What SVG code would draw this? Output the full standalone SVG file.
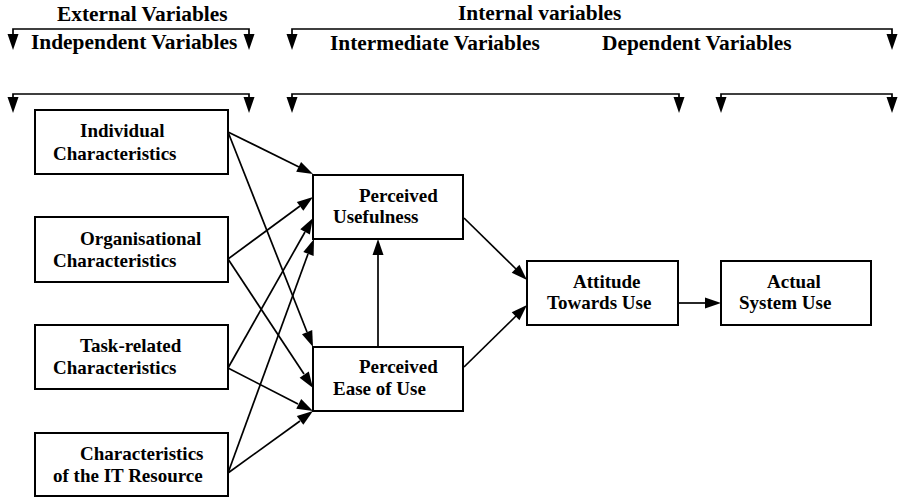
<svg xmlns="http://www.w3.org/2000/svg" width="899" height="498" viewBox="0 0 899 498">
  <style>
    .hdr { font-size: 21.4px; font-family: "Liberation Serif", serif; font-weight: bold; }
    .lbl { font-size: 19px; font-family: "Liberation Serif", serif; font-weight: bold; }
    .box { fill: #fff; stroke: #000; stroke-width: 2; }
    .ln { fill: none; stroke: #000; stroke-width: 1.7; }
  </style>
  <defs>
    <path id="head" d="M-5.5,-16 L5.5,-16 L0,0 z" fill="#000"/>
  </defs>
  <rect width="899" height="498" fill="#fff"/>

  <g id="headings">
    <text class="hdr" x="57" y="21">External Variables</text>
    <text class="hdr" x="31" y="49">Independent Variables</text>
    <text class="hdr" x="458" y="20">Internal variables</text>
    <text class="hdr" x="330" y="50">Intermediate Variables</text>
    <text class="hdr" x="602" y="50">Dependent Variables</text>
  </g>

  <g id="brackets">
    <path class="ln" d="M13,36 V29 H249 V36"/>
    <path class="ln" d="M292,36 V29 H892 V36"/>
    <path class="ln" d="M13,99 V94 H249 V99"/>
    <path class="ln" d="M292,99 V94 H679 V99"/>
    <path class="ln" d="M721,99 V94 H892 V99"/>
    <use href="#head" x="13" y="50"/>
    <use href="#head" x="249" y="50"/>
    <use href="#head" x="292" y="50"/>
    <use href="#head" x="892" y="50"/>
    <use href="#head" x="13" y="113"/>
    <use href="#head" x="249" y="113"/>
    <use href="#head" x="292" y="113"/>
    <use href="#head" x="679" y="113"/>
    <use href="#head" x="721" y="113"/>
    <use href="#head" x="892" y="113"/>
  </g>

  <g id="connectors">
    <path class="ln" d="M228,132 L299,167"/>
    <path class="ln" d="M228,132 L307,332"/>
    <path class="ln" d="M228,259 L300,206"/>
    <path class="ln" d="M228,259 L304,374"/>
    <path class="ln" d="M228,368 L305,232"/>
    <path class="ln" d="M228,368 L298,404"/>
    <path class="ln" d="M228,473 L308,254"/>
    <path class="ln" d="M228,473 L300,421"/>
    <path class="ln" d="M378,347 L378,254"/>
    <path class="ln" d="M464,218 L516,269"/>
    <path class="ln" d="M464,367 L516,316"/>
    <path class="ln" d="M678,303 L706,303"/>
    <use href="#head" transform="translate(313,174) rotate(-63.7)"/>
    <use href="#head" transform="translate(313,347) rotate(-21.6)"/>
    <use href="#head" transform="translate(313,197) rotate(-126.1)"/>
    <use href="#head" transform="translate(313,388) rotate(-33.4)"/>
    <use href="#head" transform="translate(313,218) rotate(-150.2)"/>
    <use href="#head" transform="translate(313,411) rotate(-63.2)"/>
    <use href="#head" transform="translate(314,239) rotate(-159.8)"/>
    <use href="#head" transform="translate(313,411) rotate(-126.1)"/>
    <use href="#head" transform="translate(378,239) rotate(180)"/>
    <use href="#head" transform="translate(527,280) rotate(-45.5)"/>
    <use href="#head" transform="translate(527,305) rotate(-134.5)"/>
    <use href="#head" transform="translate(721,303) rotate(-90)"/>
  </g>

  <g id="individual">
    <rect class="box" x="35" y="110" width="193" height="64"/>
    <text class="lbl" x="80" y="137">Individual</text>
    <text class="lbl" x="53" y="160">Characteristics</text>
  </g>
  <g id="organisational">
    <rect class="box" x="35" y="217" width="193" height="65"/>
    <text class="lbl" x="80" y="245">Organisational</text>
    <text class="lbl" x="53" y="267">Characteristics</text>
  </g>
  <g id="task">
    <rect class="box" x="35" y="325" width="193" height="64"/>
    <text class="lbl" x="80" y="352">Task-related</text>
    <text class="lbl" x="53" y="374">Characteristics</text>
  </g>
  <g id="it-resource">
    <rect class="box" x="35" y="433" width="193" height="63"/>
    <text class="lbl" x="80" y="460">Characteristics</text>
    <text class="lbl" x="53" y="482">of the IT Resource</text>
  </g>
  <g id="usefulness">
    <rect class="box" x="313" y="175" width="150" height="64"/>
    <text class="lbl" x="359" y="202">Perceived</text>
    <text class="lbl" x="333" y="223">Usefulness</text>
  </g>
  <g id="ease-of-use">
    <rect class="box" x="313" y="347" width="150" height="64"/>
    <text class="lbl" x="359" y="373">Perceived</text>
    <text class="lbl" x="333" y="395">Ease of Use</text>
  </g>
  <g id="attitude">
    <rect class="box" x="527" y="261" width="151" height="64"/>
    <text class="lbl" x="573" y="288">Attitude</text>
    <text class="lbl" x="547" y="309">Towards Use</text>
  </g>
  <g id="actual-use">
    <rect class="box" x="721" y="261" width="150" height="64"/>
    <text class="lbl" x="767" y="288">Actual</text>
    <text class="lbl" x="739" y="309">System Use</text>
  </g>
</svg>
